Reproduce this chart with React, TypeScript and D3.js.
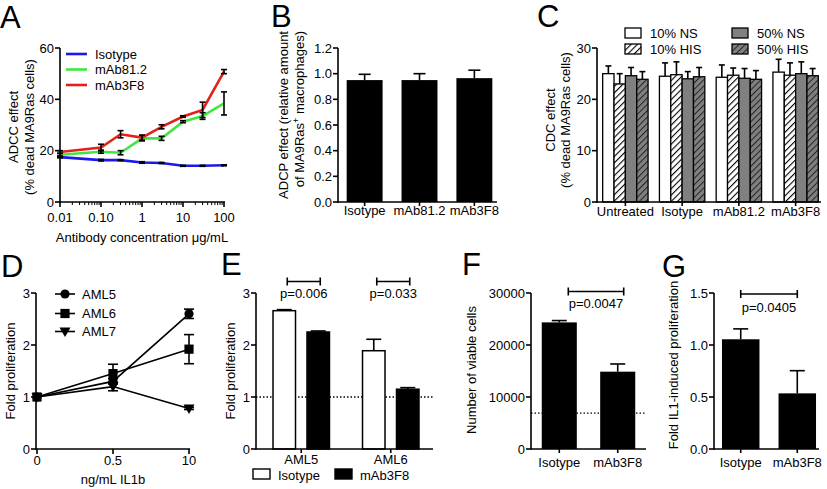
import React from "react";
import * as d3 from "d3";

// ---------------- DATA ----------------
// Panel A
const concentrations = [0.01, 0.1, 0.3, 1, 3, 10, 30, 100];
const aSeries = ["Isotype", "mAb81.2", "mAb3F8"];
const isotypeADCC = [17.5, 16.3, 16.3, 15.4, 15.2, 14.1, 14.1, 14.3];
const isotypeADCCErr = [0.3, 0.3, 0.2, 0.3, 0.2, 0.2, 0.2, 0.2];
const mAb812ADCC = [18.4, 19.6, 19.2, 24.8, 24.8, 31.3, 33.5, 38.4];
const mAb812ADCCErr = [0.5, 0.6, 0.8, 1.0, 0.8, 0.4, 1.3, 4.5];
const mAb3F8ADCC = [19.5, 21.2, 26.4, 25.1, 29.3, 33.3, 35.9, 50.8];
const mAb3F8ADCCErr = [0.5, 1.3, 1.4, 1.0, 0.8, 0.3, 3.0, 0.8];
const aYTicks = [0, 20, 40, 60];
const aXTicks = [0.01, 0.1, 1, 10, 100];
const aXTickLabels = ["0.01", "0.10", "1", "10", "100"];

// Panel B
const adcpCategories = ["Isotype", "mAb81.2", "mAb3F8"];
const adcpValues = [0.95, 0.95, 0.965];
const adcpErr = [0.045, 0.05, 0.062];
const bYTicks = [0, 0.2, 0.4, 0.6, 0.8, 1.0, 1.2];

// Panel C
const cdcCategories = ["Untreated", "Isotype", "mAb81.2", "mAb3F8"];
const cdcSeries = ["10% NS", "10% HIS", "50% NS", "50% HIS"];
const cdc10NS = [25.0, 24.5, 24.3, 25.3];
const cdc10NSErr = [1.5, 2.6, 2.4, 2.5];
const cdc10HIS = [23.0, 24.8, 24.7, 24.7];
const cdc10HISErr = [2.0, 2.5, 1.4, 2.4];
const cdc50NS = [24.6, 24.0, 24.1, 25.0];
const cdc50NSErr = [1.6, 1.4, 1.9, 2.3];
const cdc50HIS = [23.9, 24.4, 23.9, 24.6];
const cdc50HISErr = [1.5, 1.8, 1.7, 1.4];
const cYTicks = [0, 10, 20, 30];

// Panel D
const doses = ["0", "0.5", "10"];
const dSeries = ["AML5", "AML6", "AML7"];
const aml5 = [1, 1.3, 2.6];
const aml5Err = [0, 0.05, 0.09];
const aml6 = [1, 1.45, 1.92];
const aml6Err = [0, 0.18, 0.28];
const aml7 = [1, 1.2, 0.78];
const aml7Err = [0, 0.08, 0.02];
const dYTicks = [0, 1, 2, 3];

// Panel E
const eCategories = ["AML5", "AML6"];
const eGroups = ["Isotype", "mAb3F8"];
const eIsotype = [2.66, 1.89];
const eIsotypeErr = [0.02, 0.22];
const eMAb3F8 = [2.25, 1.15];
const eMAb3F8Err = [0.02, 0.03];
const ePValues = ["p=0.006", "p=0.033"];
const eBaseline = 1;
const eYTicks = [0, 1, 2, 3];

// Panel F
const fCategories = ["Isotype", "mAb3F8"];
const fValues = [24350, 14870];
const fErr = [350, 1480];
const fThreshold = 6900;
const fPValue = "p=0.0047";
const fYTicks = [0, 10000, 20000, 30000];

// Panel G
const gCategories = ["Isotype", "mAb3F8"];
const gValues = [1.055, 0.535];
const gErr = [0.1, 0.218];
const gPValue = "p=0.0405";
const gYTicks = [0, 0.5, 1.0, 1.5];

// ---------------- STYLE ----------------
const FONT = "'Liberation Sans', Arial, Helvetica, sans-serif";
const FS = 13;
const AX = 1.6;
const aColors = ["#1a1ae6", "#3ee83e", "#e3201c"];

// ---------------- HELPERS ----------------
function YAxis({ x, scale, ticks, fmt }: any) {
  const [r0, r1] = scale.range();
  return (
    <g>
      <line x1={x} x2={x} y1={r0 + AX / 2} y2={r1} stroke="#000" strokeWidth={AX} />
      {ticks.map((t: number) => (
        <g key={t}>
          <line x1={x - 5} x2={x} y1={scale(t)} y2={scale(t)} stroke="#000" strokeWidth={AX} />
          <text x={x - 6} y={scale(t)} dy="0.36em" textAnchor="end" fontSize={FS}>
            {fmt(t)}
          </text>
        </g>
      ))}
    </g>
  );
}

function XAxisLine({ x0, x1, y }: any) {
  return <line x1={x0} x2={x1} y1={y} y2={y} stroke="#000" strokeWidth={AX} />;
}

function CatTicks({ scale, y, labels, dy = 15 }: any) {
  return (
    <g>
      {labels.map((c: string) => {
        const cx = scale(c) + scale.bandwidth() / 2;
        return (
          <g key={c}>
            <line x1={cx} x2={cx} y1={y} y2={y + 4} stroke="#000" strokeWidth={AX} />
            <text x={cx} y={y + dy} textAnchor="middle" fontSize={FS}>
              {c}
            </text>
          </g>
        );
      })}
    </g>
  );
}

function UpErr({ cx, yTop, yErr, cap }: any) {
  return (
    <g stroke="#000" strokeWidth={1.6}>
      <line x1={cx} x2={cx} y1={yTop} y2={yErr} />
      <line x1={cx - cap / 2} x2={cx + cap / 2} y1={yErr} y2={yErr} />
    </g>
  );
}

function SymErr({ cx, y1, y2, cap, color = "#000", w = 1.6 }: any) {
  return (
    <g stroke={color} strokeWidth={w}>
      <line x1={cx} x2={cx} y1={y1} y2={y2} />
      <line x1={cx - cap / 2} x2={cx + cap / 2} y1={y1} y2={y1} />
      <line x1={cx - cap / 2} x2={cx + cap / 2} y1={y2} y2={y2} />
    </g>
  );
}

function Bracket({ x1, x2, y, label, ty }: any) {
  return (
    <g>
      <g stroke="#000" strokeWidth={1.6}>
        <line x1={x1} x2={x2} y1={y} y2={y} />
        <line x1={x1} x2={x1} y1={y - 4} y2={y + 4} />
        <line x1={x2} x2={x2} y1={y - 4} y2={y + 4} />
      </g>
      <text x={(x1 + x2) / 2} y={ty} dy="0.36em" textAnchor="middle" fontSize={FS}>
        {label}
      </text>
    </g>
  );
}

function Marker({ kind, x, y }: any) {
  if (kind === 0) return <circle cx={x} cy={y} r={4.6} fill="#000" />;
  if (kind === 1) return <rect x={x - 4.6} y={y - 4.6} width={9.2} height={9.2} fill="#000" />;
  return <path d={`M${x - 5.5},${y - 4} L${x + 5.5},${y - 4} L${x},${y + 5.5} Z`} fill="#000" />;
}

function RotLabel({ x, y, lines, anchor = "middle", dx = 15 }: any) {
  return (
    <g>
      {lines.map((l: any, i: number) => (
        <text
          key={i}
          transform={`translate(${x + i * dx},${y}) rotate(-90)`}
          textAnchor={anchor}
          dy="0.36em"
          fontSize={FS}
        >
          {l}
        </text>
      ))}
    </g>
  );
}

// ---------------- PANELS ----------------
function PanelA() {
  const x = d3.scaleLog().domain([0.01, 100]).range([60, 224]);
  const y = d3.scaleLinear().domain([0, 60]).range([202, 48]);
  const series = [isotypeADCC, mAb812ADCC, mAb3F8ADCC];
  const errs = [isotypeADCCErr, mAb812ADCCErr, mAb3F8ADCCErr];
  const line = d3
    .line<number>()
    .x((_, i) => x(concentrations[i]))
    .y((v) => y(v));
  const minor: number[] = [];
  [0.01, 0.1, 1, 10].forEach((d) => {
    for (let k = 2; k <= 9; k++) minor.push(d * k);
  });
  return (
    <g>
      <text x={0} y={28} fontSize={31}>A</text>
      <YAxis x={60} scale={y} ticks={aYTicks} fmt={(t: number) => String(t)} />
      <XAxisLine x0={60} x1={225} y={202} />
      {minor.map((m) => (
        <line key={m} x1={x(m)} x2={x(m)} y1={202} y2={205} stroke="#000" strokeWidth={1} />
      ))}
      {aXTicks.map((t, i) => (
        <g key={t}>
          <line x1={x(t)} x2={x(t)} y1={202} y2={207} stroke="#000" strokeWidth={AX} />
          <text x={x(t)} y={222} textAnchor="middle" fontSize={FS}>
            {aXTickLabels[i]}
          </text>
        </g>
      ))}
      <text x={142} y={242} textAnchor="middle" fontSize={FS}>
        Antibody concentration μg/mL
      </text>
      <RotLabel x={13} y={127} lines={["ADCC effect", "(% dead MA9Ras cells)"]} dx={16} />
      {series.map((s, si) => (
        <g key={si}>
          <path d={line(s) || ""} fill="none" stroke={aColors[si]} strokeWidth={2.6} />
          {s.map((v, i) => (
            <SymErr
              key={i}
              cx={x(concentrations[i])}
              y1={y(v + errs[si][i])}
              y2={y(v - errs[si][i])}
              cap={6}
            />
          ))}
        </g>
      ))}
      {aSeries.map((n, i) => (
        <g key={n}>
          <line x1={66} x2={87} y1={54 + i * 15.5} y2={54 + i * 15.5} stroke={aColors[i]} strokeWidth={2.6} />
          <text x={95} y={54 + i * 15.5} dy="0.36em" fontSize={FS}>
            {n}
          </text>
        </g>
      ))}
    </g>
  );
}

function PanelB() {
  const x = d3.scaleBand().domain(adcpCategories).range([338, 501]).paddingInner(0.345).paddingOuter(0.158);
  const y = d3.scaleLinear().domain([0, 1.2]).range([202, 48]);
  return (
    <g>
      <text x={271} y={27} fontSize={31}>B</text>
      <YAxis x={338} scale={y} ticks={bYTicks} fmt={d3.format(".1f")} />
      {adcpCategories.map((c, i) => {
        const x0 = x(c)!;
        const cx = x0 + x.bandwidth() / 2;
        return (
          <g key={c}>
            <UpErr cx={cx} yTop={y(adcpValues[i])} yErr={y(adcpValues[i] + adcpErr[i])} cap={12} />
            <rect x={x0} y={y(adcpValues[i])} width={x.bandwidth()} height={202 - y(adcpValues[i])} fill="#000" />
          </g>
        );
      })}
      <XAxisLine x0={338} x1={497} y={202} />
      <CatTicks scale={x} y={202} labels={adcpCategories} dy={13} />
      <text transform="translate(283,31) rotate(-90)" textAnchor="end" dy="0.36em" fontSize={FS}>
        ADCP effect (relative amount
      </text>
      <text transform="translate(299,31) rotate(-90)" textAnchor="end" dy="0.36em" fontSize={FS}>
        of MA9Ras<tspan baselineShift="super" fontSize={9}>+</tspan> macrophages)
      </text>
    </g>
  );
}

function PanelC() {
  const x = d3.scaleBand().domain(cdcCategories).range([597, 824]).paddingInner(0.2).paddingOuter(0.1);
  const xs = d3.scaleBand().domain(cdcSeries).range([0, x.bandwidth()]);
  const y = d3.scaleLinear().domain([0, 30]).range([202, 48]);
  const vals = [cdc10NS, cdc10HIS, cdc50NS, cdc50HIS];
  const errs = [cdc10NSErr, cdc10HISErr, cdc50NSErr, cdc50HISErr];
  const fills = ["#fff", "url(#hatchLight)", "#808080", "url(#hatchDark)"];
  return (
    <g>
      <text x={537} y={27} fontSize={31}>C</text>
      <YAxis x={597} scale={y} ticks={cYTicks} fmt={(t: number) => String(t)} />
      {cdcCategories.map((c, ci) => (
        <g key={c}>
          {cdcSeries.map((s, si) => {
            const x0 = x(c)! + xs(s)!;
            const v = vals[si][ci];
            return (
              <g key={s}>
                <UpErr cx={x0 + xs.bandwidth() / 2} yTop={y(v)} yErr={y(v + errs[si][ci])} cap={6} />
                <rect
                  x={x0}
                  y={y(v)}
                  width={xs.bandwidth()}
                  height={202 - y(v)}
                  fill={fills[si]}
                  stroke="#000"
                  strokeWidth={1.3}
                />
              </g>
            );
          })}
        </g>
      ))}
      <XAxisLine x0={597} x1={821} y={202} />
      <CatTicks scale={x} y={202} labels={cdcCategories} dy={14} />
      <RotLabel x={550} y={120} lines={["CDC effect", "(% dead MA9Ras cells)"]} dx={15.5} />
      {cdcSeries.map((s, i) => {
        const lx = i < 2 ? 625 : 732;
        const ly = i % 2 === 0 ? 28 : 44;
        return (
          <g key={s}>
            <rect x={lx} y={ly} width={16} height={10} fill={fills[i]} stroke="#000" strokeWidth={1.3} />
            <text x={lx + 25} y={ly + 5} dy="0.36em" fontSize={FS}>
              {s}
            </text>
          </g>
        );
      })}
    </g>
  );
}

function PanelD() {
  const x = d3.scalePoint().domain(doses).range([37, 189]);
  const y = d3.scaleLinear().domain([0, 3]).range([449, 293]);
  const vals = [aml5, aml6, aml7];
  const errs = [aml5Err, aml6Err, aml7Err];
  const line = d3
    .line<number>()
    .x((_, i) => x(doses[i])!)
    .y((v) => y(v));
  return (
    <g>
      <text x={1} y={277} fontSize={31}>D</text>
      <YAxis x={36} scale={y} ticks={dYTicks} fmt={(t: number) => String(t)} />
      <XAxisLine x0={36} x1={190} y={449} />
      {doses.map((d) => (
        <g key={d}>
          <line x1={x(d)} x2={x(d)} y1={449} y2={454} stroke="#000" strokeWidth={AX} />
          <text x={x(d)} y={465} textAnchor="middle" fontSize={FS}>
            {d}
          </text>
        </g>
      ))}
      <text x={113} y={484} textAnchor="middle" fontSize={FS}>
        ng/mL IL1b
      </text>
      <RotLabel x={10} y={371} lines={["Fold proliferation"]} />
      {vals.map((s, si) => (
        <g key={si}>
          <path d={line(s) || ""} fill="none" stroke="#000" strokeWidth={1.6} />
          {s.map((v, i) =>
            errs[si][i] > 0 ? (
              <SymErr key={"e" + i} cx={x(doses[i])} y1={y(v + errs[si][i])} y2={y(v - errs[si][i])} cap={10} />
            ) : null
          )}
          {s.map((v, i) => (
            <Marker key={i} kind={si} x={x(doses[i])} y={y(v)} />
          ))}
        </g>
      ))}
      {dSeries.map((n, i) => {
        const ly = [294, 313.5, 331.5][i];
        return (
          <g key={n}>
            <line x1={55} x2={75} y1={ly} y2={ly} stroke="#000" strokeWidth={1.6} />
            <Marker kind={i} x={65} y={ly} />
            <text x={82} y={ly} dy="0.36em" fontSize={FS}>
              {n}
            </text>
          </g>
        );
      })}
    </g>
  );
}

function PanelE() {
  const x = d3.scaleBand().domain(eCategories).range([256, 436]).paddingInner(0.369).paddingOuter(0.19);
  const xs = d3.scaleBand().domain(eGroups).range([0, x.bandwidth()]).paddingInner(0.338);
  const y = d3.scaleLinear().domain([0, 3]).range([449, 293]);
  const vals = [eIsotype, eMAb3F8];
  const errs = [eIsotypeErr, eMAb3F8Err];
  const fills = ["#fff", "#000"];
  return (
    <g>
      <text x={221} y={275} fontSize={31}>E</text>
      <line x1={256} x2={433} y1={y(eBaseline)} y2={y(eBaseline)} stroke="#000" strokeWidth={1.3} strokeDasharray="1.5,2" />
      {eCategories.map((c, ci) => (
        <g key={c}>
          {eGroups.map((g, gi) => {
            const x0 = x(c)! + xs(g)!;
            const v = vals[gi][ci];
            return (
              <g key={g}>
                <UpErr cx={x0 + xs.bandwidth() / 2} yTop={y(v)} yErr={y(v + errs[gi][ci])} cap={15} />
                <rect x={x0} y={y(v)} width={xs.bandwidth()} height={449 - y(v)} fill={fills[gi]} stroke="#000" strokeWidth={1.5} />
              </g>
            );
          })}
          <Bracket
            x1={x(c)! + xs("Isotype")! + xs.bandwidth() / 2 + 3}
            x2={x(c)! + xs("mAb3F8")! + xs.bandwidth() / 2 + 2}
            y={281.5}
            label={ePValues[ci]}
            ty={293}
          />
        </g>
      ))}
      <YAxis x={256} scale={y} ticks={eYTicks} fmt={(t: number) => String(t)} />
      <XAxisLine x0={256} x1={433} y={449} />
      <CatTicks scale={x} y={449} labels={eCategories} dy={14.5} />
      <RotLabel x={230} y={371} lines={["Fold proliferation"]} />
      {eGroups.map((g, i) => {
        const lx = [253, 335][i];
        return (
          <g key={g}>
            <rect x={lx} y={469} width={17} height={10} fill={fills[i]} stroke="#000" strokeWidth={1.4} />
            <text x={lx + 25} y={479.5} fontSize={FS}>
              {g}
            </text>
          </g>
        );
      })}
    </g>
  );
}

function PanelF() {
  const x = d3.scaleBand().domain(fCategories).range([531, 646]).paddingInner(0.4).paddingOuter(0.184);
  const y = d3.scaleLinear().domain([0, 30000]).range([449, 293]);
  const c0 = x(fCategories[0])! + x.bandwidth() / 2;
  const c1 = x(fCategories[1])! + x.bandwidth() / 2;
  return (
    <g>
      <text x={462} y={275} fontSize={31}>F</text>
      <line x1={531} x2={646} y1={y(fThreshold)} y2={y(fThreshold)} stroke="#000" strokeWidth={1.3} strokeDasharray="1.5,2" />
      {fCategories.map((c, i) => {
        const x0 = x(c)!;
        return (
          <g key={c}>
            <UpErr cx={x0 + x.bandwidth() / 2} yTop={y(fValues[i])} yErr={y(fValues[i] + fErr[i])} cap={15} />
            <rect x={x0} y={y(fValues[i])} width={x.bandwidth()} height={449 - y(fValues[i])} fill="#000" />
          </g>
        );
      })}
      <YAxis x={531} scale={y} ticks={fYTicks} fmt={(t: number) => String(t)} />
      <XAxisLine x0={531} x1={646} y={449} />
      <CatTicks scale={x} y={449} labels={fCategories} dy={17.5} />
      <Bracket x1={c0 + 9} x2={c1 + 6} y={291.5} label={fPValue} ty={303} />
      <RotLabel x={471} y={370} lines={["Number of viable cells"]} />
    </g>
  );
}

function PanelG() {
  const x = d3.scaleBand().domain(gCategories).range([714, 824]).paddingInner(0.337).paddingOuter(0.141);
  const y = d3.scaleLinear().domain([0, 1.5]).range([449, 293]);
  const c0 = x(gCategories[0])! + x.bandwidth() / 2;
  const c1 = x(gCategories[1])! + x.bandwidth() / 2;
  return (
    <g>
      <text x={662} y={277} fontSize={31}>G</text>
      {gCategories.map((c, i) => {
        const x0 = x(c)!;
        return (
          <g key={c}>
            <UpErr cx={x0 + x.bandwidth() / 2} yTop={y(gValues[i])} yErr={y(gValues[i] + gErr[i])} cap={15} />
            <rect x={x0} y={y(gValues[i])} width={x.bandwidth()} height={449 - y(gValues[i])} fill="#000" />
          </g>
        );
      })}
      <YAxis x={714} scale={y} ticks={gYTicks} fmt={d3.format(".1f")} />
      <XAxisLine x0={714} x1={819} y={449} />
      <CatTicks scale={x} y={449} labels={gCategories} dy={17.5} />
      <Bracket x1={c0} x2={c1} y={294} label={gPValue} ty={307.5} />
      <RotLabel x={673} y={365} lines={["Fold IL1-induced proliferation"]} />
    </g>
  );
}

export default function App() {
  return (
    <svg
      width={827}
      height={489}
      viewBox="0 0 827 489"
      style={{ position: "absolute", left: 0, top: 0, background: "#fff" }}
      fontFamily={FONT}
    >
      <defs>
        <pattern id="hatchLight" patternUnits="userSpaceOnUse" width={4.5} height={4.5} patternTransform="rotate(45)">
          <rect width={4.5} height={4.5} fill="#fff" />
          <line x1={0} y1={0} x2={0} y2={4.5} stroke="#000" strokeWidth={2.2} />
        </pattern>
        <pattern id="hatchDark" patternUnits="userSpaceOnUse" width={4.5} height={4.5} patternTransform="rotate(45)">
          <rect width={4.5} height={4.5} fill="#808080" />
          <line x1={0} y1={0} x2={0} y2={4.5} stroke="#222" strokeWidth={2} />
        </pattern>
      </defs>
      <rect width={827} height={489} fill="#fff" />
      <PanelA />
      <PanelB />
      <PanelC />
      <PanelD />
      <PanelE />
      <PanelF />
      <PanelG />
    </svg>
  );
}
